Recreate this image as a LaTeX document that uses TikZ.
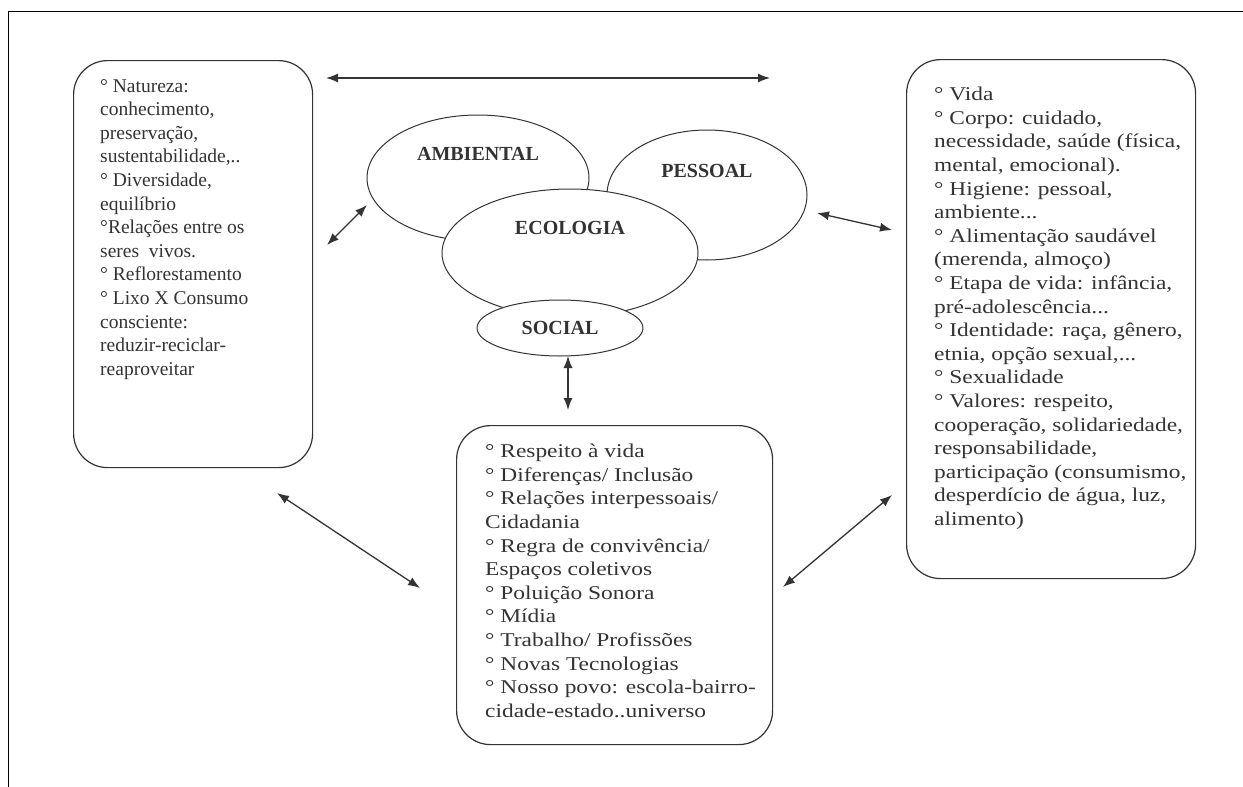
\documentclass[tikz,border=0pt]{standalone}
\usepackage{fontspec}
\setmainfont{Liberation Serif}
\newfontfamily\largo{Liberation Serif}[FakeStretch=1.2]
\usetikzlibrary{arrows.meta,shapes.geometric}

\definecolor{traco}{HTML}{333333}

\tikzset{
  caixa/.style={draw=traco,line width=1.2pt,rounded corners=34pt,anchor=north west,inner sep=0pt},
  texto/.style={anchor=north west,inner sep=0pt,align=left,text=traco},
  elipse/.style={ellipse,draw=traco,line width=1pt,fill=white,inner sep=0pt},
  titulo/.style={font=\fontsize{20}{24}\selectfont\bfseries,text=traco,inner sep=0pt}
}

\begin{document}
\begin{tikzpicture}[x=1pt,y=-1pt]

      \useasboundingbox (0,0) rectangle (1243,787);
      \draw[line width=1pt] (8,787) -- (8,11) -- (1243,11);

      \node[caixa,minimum width=239pt,minimum height=407pt] (natureza) at (73,60)  {};
      \node[caixa,minimum width=289pt,minimum height=519pt] (vida)     at (906,59) {};
      \node[caixa,minimum width=316pt,minimum height=319pt] (respeito) at (456,425) {};

      \node[elipse,minimum width=222pt,minimum height=126pt] (ambiental) at (478,178) {};
      \node[elipse,minimum width=200pt,minimum height=130pt] (pessoal)   at (707,195) {};
      \node[elipse,minimum width=256pt,minimum height=128pt] (ecologia)  at (570,253) {};
      \node[elipse,minimum width=166pt,minimum height=56pt]  (social)    at (560,328) {};

      \node[titulo] (tamb) at (478,154) {AMBIENTAL};
      \node[titulo] (tpes) at (707,171) {PESSOAL};
      \node[titulo] (teco) at (570,228) {ECOLOGIA};
      \node[titulo] (tsoc) at (560,328) {SOCIAL};

      \node[texto,font=\fontsize{19.5}{23.6}\selectfont] (tnat) at (100,79) {%
        ° Natureza:\\conhecimento,\\preservação,\\sustentabilidade,..\\
        ° Diversidade,\\equilíbrio\\°Relações entre os\\seres\ \ vivos.\\
        ° Reflorestamento\\° Lixo X Consumo\\consciente:\\reduzir-reciclar-\\
        reaproveitar};

      \node[texto,font=\largo\fontsize{19.5}{23.6}\selectfont] (tvid) at (934,87) {%
        ° Vida\\° Corpo: cuidado,\\necessidade, saúde (física,\\mental, emocional).\\
        ° Higiene: pessoal,\\ambiente...\\° Alimentação saudável\\(merenda, almoço)\\
        ° Etapa de vida: infância,\\pré-adolescência...\\° Identidade: raça, gênero,\\
        etnia, opção sexual,...\\° Sexualidade\\° Valores: respeito,\\
        cooperação, solidariedade,\\responsabilidade,\\participação (consumismo,\\
        desperdício de água, luz,\\alimento)};

      \node[texto,font=\largo\fontsize{19.5}{23.6}\selectfont] (tres) at (485,444) {%
        ° Respeito à vida\\° Diferenças/ Inclusão\\° Relações interpessoais/\\Cidadania\\
        ° Regra de convivência/\\Espaços coletivos\\° Poluição Sonora\\° Mídia\\
        ° Trabalho/ Profissões\\° Novas Tecnologias\\° Nosso povo: escola-bairro-\\
        cidade-estado..universo};

      \coordinate (a1) at (326,78);  \coordinate (a2) at (770,78);
      \coordinate (b1) at (327,245); \coordinate (b2) at (367,205);
      \coordinate (c1) at (817,213); \coordinate (c2) at (892,230);
      \coordinate (d1) at (568,356); \coordinate (d2) at (568,410);
      \coordinate (e1) at (277,493); \coordinate (e2) at (420,588);
      \coordinate (f1) at (892,495); \coordinate (f2) at (783,587);

      \begin{scope}[every edge/.style={draw=traco,line width=1.3pt,
          {Latex[length=12pt,width=9pt]}-{Latex[length=12pt,width=9pt]}}]
        \path (a1) edge (a2);
        \path (b1) edge (b2);
        \path (c1) edge (c2);
        \path (d1) edge (d2);
        \path (e1) edge (e2);
        \path (f1) edge (f2);
      \end{scope}

    \end{tikzpicture}
\end{document}
